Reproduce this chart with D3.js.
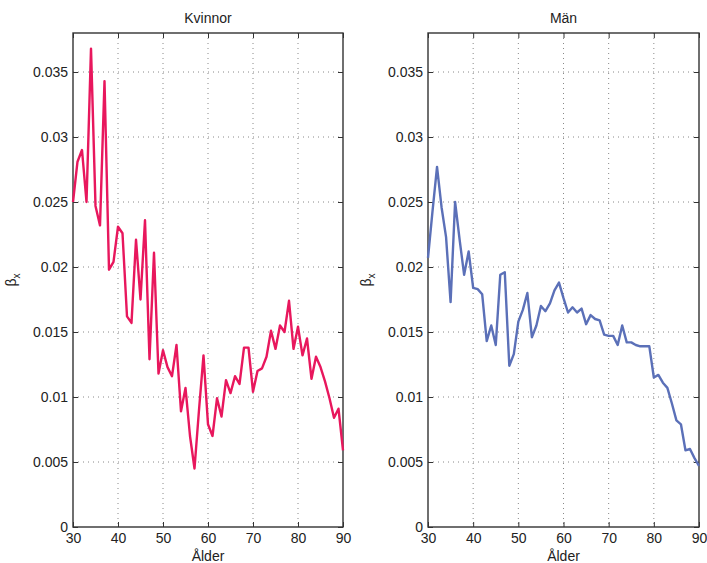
<!DOCTYPE html>
<html>
<head>
<meta charset="utf-8">
<script src="https://cdn.jsdelivr.net/npm/d3@7"></script>
<style>
  html, body { margin: 0; padding: 0; background: #fff; }
  svg { display: block; font-family: "Liberation Sans", Arial, Helvetica, sans-serif; }
</style>
</head>
<body>
<svg id="chart" width="707" height="563"></svg>
<script>
// Age-specific sensitivity beta_x by sex, ages 30–90
const ages = d3.range(30, 91);

const kvinnor = [
  0.0250, 0.0281, 0.0290, 0.0250, 0.0368, 0.0247, 0.0232, 0.0343, 0.0198, 0.0204,
  0.0231, 0.0226, 0.0162, 0.0157, 0.0221, 0.0175, 0.0236, 0.0129, 0.0211, 0.0118,
  0.0136, 0.0123, 0.0116, 0.0140, 0.0089, 0.0107, 0.0070, 0.0045, 0.0090, 0.0132,
  0.0079, 0.0070, 0.0099, 0.0085, 0.0113, 0.0103, 0.0116, 0.0110, 0.0138, 0.0138,
  0.0104, 0.0120, 0.0122, 0.0131, 0.0151, 0.0137, 0.0155, 0.0150, 0.0174, 0.0137,
  0.0154, 0.0132, 0.0145, 0.0114, 0.0131, 0.0123, 0.0112, 0.0099, 0.0084, 0.0091,
  0.0059
];

const man = [
  0.0207, 0.0243, 0.0277, 0.0246, 0.0223, 0.0173, 0.0250, 0.0221, 0.0194, 0.0212,
  0.0184, 0.0183, 0.0179, 0.0143, 0.0155, 0.0140, 0.0194, 0.0196, 0.0124, 0.0133,
  0.0158, 0.0167, 0.0180, 0.0146, 0.0155, 0.0170, 0.0166, 0.0172, 0.0182, 0.0188,
  0.0176, 0.0165, 0.0169, 0.0165, 0.0168, 0.0156, 0.0163, 0.0160, 0.0159, 0.0148,
  0.0147, 0.0147, 0.0140, 0.0155, 0.0142, 0.0142, 0.0140, 0.0139, 0.0139, 0.0139,
  0.0115, 0.0117, 0.0111, 0.0107, 0.0095, 0.0082, 0.0079, 0.0059, 0.0060, 0.0053,
  0.0047
];

const xTicks = [30, 40, 50, 60, 70, 80, 90];
const yTicks = [0, 0.005, 0.01, 0.015, 0.02, 0.025, 0.03, 0.035];
const yTickLabels = ["0", "0.005", "0.01", "0.015", "0.02", "0.025", "0.03", "0.035"];

const panels = [
  { title: "Kvinnor", values: kvinnor, color: "#e8175d", left: 73, right: 343 },
  { title: "Män",     values: man,     color: "#5b70b8", left: 428, right: 699 }
];

const plotTop = 33, plotBottom = 527;
const svg = d3.select("#chart");

panels.forEach(p => {
  const x = d3.scaleLinear().domain([30, 90]).range([p.left, p.right]);
  const y = d3.scaleLinear().domain([0, 0.038]).range([plotBottom, plotTop]);
  const g = svg.append("g");

  // dotted grid
  g.append("g").selectAll("line")
    .data(xTicks.slice(1, -1)).join("line")
    .attr("x1", d => x(d)).attr("x2", d => x(d))
    .attr("y1", plotTop).attr("y2", plotBottom)
    .attr("stroke", "#888").attr("stroke-width", 1)
    .attr("stroke-dasharray", "1,4");
  g.append("g").selectAll("line")
    .data(yTicks.slice(1)).join("line")
    .attr("x1", p.left).attr("x2", p.right)
    .attr("y1", d => y(d)).attr("y2", d => y(d))
    .attr("stroke", "#888").attr("stroke-width", 1)
    .attr("stroke-dasharray", "1,4");

  // axes with inward ticks
  const tickLen = 5;
  const axB = g.append("g").attr("transform", `translate(0,${plotBottom})`)
    .call(d3.axisBottom(x).tickValues(xTicks).tickSize(-tickLen).tickPadding(6).tickFormat(d3.format("d")));
  const axT = g.append("g").attr("transform", `translate(0,${plotTop})`)
    .call(d3.axisTop(x).tickValues(xTicks).tickSize(-tickLen).tickFormat(""));
  const axL = g.append("g").attr("transform", `translate(${p.left},0)`)
    .call(d3.axisLeft(y).tickValues(yTicks).tickSize(-tickLen).tickPadding(5)
      .tickFormat((d, i) => yTickLabels[i]));
  const axR = g.append("g").attr("transform", `translate(${p.right},0)`)
    .call(d3.axisRight(y).tickValues(yTicks).tickSize(-tickLen).tickFormat(""));

  [axB, axT, axL, axR].forEach(a => {
    a.select(".domain").remove();
    a.selectAll(".tick line").attr("stroke", "#333").attr("stroke-width", 1);
    a.selectAll("text").attr("fill", "#222").style("font-size", "14px")
      .style("font-family", "'Liberation Sans', Arial, Helvetica, sans-serif");
  });

  // frame
  g.append("rect")
    .attr("x", p.left).attr("y", plotTop)
    .attr("width", p.right - p.left).attr("height", plotBottom - plotTop)
    .attr("fill", "none").attr("stroke", "#333").attr("stroke-width", 1.4);

  // series line
  const line = d3.line().x((d, i) => x(ages[i])).y(d => y(d));
  g.append("path")
    .datum(p.values)
    .attr("d", line)
    .attr("fill", "none")
    .attr("stroke", p.color)
    .attr("stroke-width", 2.4)
    .attr("stroke-linejoin", "round");

  // title
  g.append("text")
    .attr("x", (p.left + p.right) / 2).attr("y", 23)
    .attr("text-anchor", "middle")
    .attr("fill", "#222").style("font-size", "14px")
    .text(p.title);

  // x label
  g.append("text")
    .attr("x", (p.left + p.right) / 2).attr("y", 561)
    .attr("text-anchor", "middle")
    .attr("fill", "#222").style("font-size", "14px")
    .text("Ålder");

  // y label: beta with subscript x
  const yl = g.append("text")
    .attr("transform", `translate(${p.left - 57},${(plotTop + plotBottom) / 2}) rotate(-90)`)
    .attr("text-anchor", "middle")
    .attr("fill", "#222").style("font-size", "14px");
  yl.append("tspan").text("β");
  yl.append("tspan").attr("dy", 4).style("font-size", "10px").text("x");
});
</script>
</body>
</html>
